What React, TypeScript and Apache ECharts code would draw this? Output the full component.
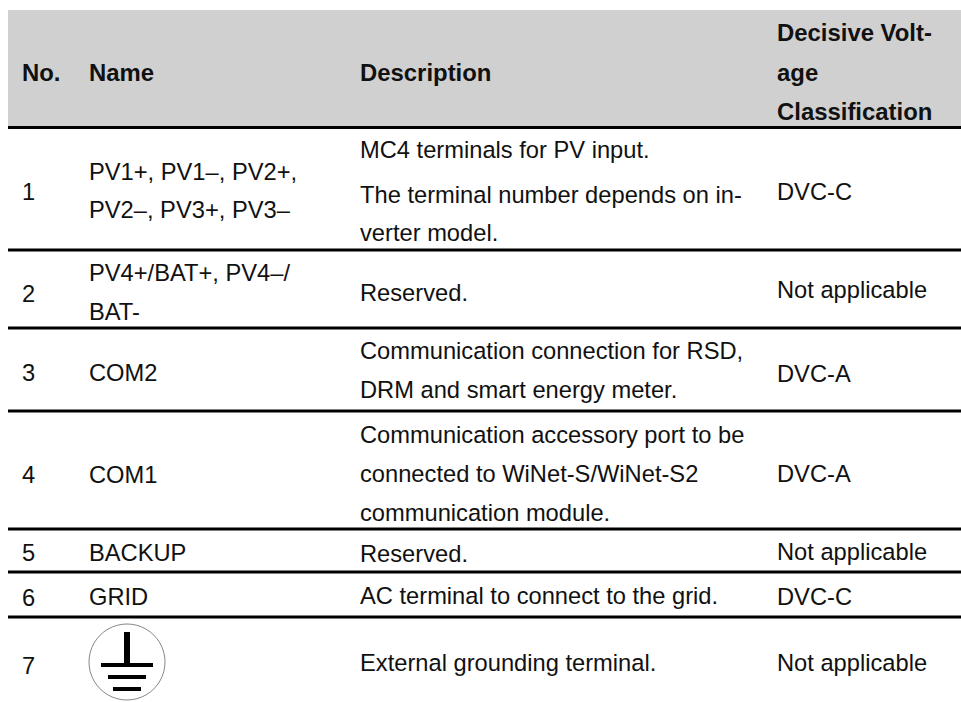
import React, { useEffect, useRef } from "react";
import * as echarts from "echarts";

const FONT = '"Liberation Sans", Arial, sans-serif';
const columnX = [22, 89, 360, 777];
const header = [
  { col: 0, y: 72, text: "No." },
  { col: 1, y: 72, text: "Name" },
  { col: 2, y: 72, text: "Description" },
  { col: 3, y: 32, text: "Decisive Volt-" },
  { col: 3, y: 72, text: "age" },
  { col: 3, y: 111, text: "Classification" },
];
const cells = [
  { col: 2, y: 150, text: "MC4 terminals for PV input." },
  { col: 2, y: 195, text: "The terminal number depends on in-" },
  { col: 2, y: 233, text: "verter model." },
  { col: 0, y: 192, text: "1" },
  { col: 1, y: 172, text: "PV1+, PV1–, PV2+," },
  { col: 1, y: 210, text: "PV2–, PV3+, PV3–" },
  { col: 3, y: 192, text: "DVC-C" },
  { col: 0, y: 294, text: "2" },
  { col: 1, y: 273, text: "PV4+/BAT+, PV4–/" },
  { col: 1, y: 312, text: "BAT-" },
  { col: 2, y: 293, text: "Reserved." },
  { col: 3, y: 290, text: "Not applicable" },
  { col: 0, y: 373, text: "3" },
  { col: 1, y: 373, text: "COM2" },
  { col: 2, y: 351, text: "Communication connection for RSD," },
  { col: 2, y: 390, text: "DRM and smart energy meter." },
  { col: 3, y: 374, text: "DVC-A" },
  { col: 0, y: 475, text: "4" },
  { col: 1, y: 475, text: "COM1" },
  { col: 2, y: 435, text: "Communication accessory port to be" },
  { col: 2, y: 474, text: "connected to WiNet-S/WiNet-S2" },
  { col: 2, y: 513, text: "communication module." },
  { col: 3, y: 474, text: "DVC-A" },
  { col: 0, y: 553, text: "5" },
  { col: 1, y: 553, text: "BACKUP" },
  { col: 2, y: 554, text: "Reserved." },
  { col: 3, y: 552, text: "Not applicable" },
  { col: 0, y: 598, text: "6" },
  { col: 1, y: 597, text: "GRID" },
  { col: 2, y: 596, text: "AC terminal to connect to the grid." },
  { col: 3, y: 597, text: "DVC-C" },
  { col: 0, y: 666, text: "7" },
  { col: 2, y: 663, text: "External grounding terminal." },
  { col: 3, y: 663, text: "Not applicable" },
];
const ruleY = [127.5, 250, 328, 411, 529, 572, 617];

export default function App() {
  const ref = useRef<HTMLDivElement>(null);
  useEffect(() => {
    document.body.style.margin = "0";
    const chart = echarts.init(ref.current!, null, { renderer: "svg" });
    const text = (c: any, bold: boolean) => ({
      type: "text",
      x: columnX[c.col],
      y: c.y,
      style: {
        text: c.text,
        fill: "#111",
        font: `${bold ? "bold 23.9px" : "23.7px"} ${FONT}`,
        textVerticalAlign: "middle",
        textBaseline: "middle",
      },
    });
    const elements: any[] = [
      { type: "rect", shape: { x: 8, y: 10, width: 953, height: 116 }, style: { fill: "#d0d0d0" } },
      ...ruleY.map((y) => ({ type: "rect", shape: { x: 8, y: y - 1.5, width: 953, height: 3 }, style: { fill: "#000" } })),
      ...header.map((c) => text(c, true)),
      ...cells.map((c) => text(c, false)),
      { type: "circle", shape: { cx: 127, cy: 662, r: 38 }, style: { fill: "#fff", stroke: "#888", lineWidth: 1 } },
      { type: "rect", shape: { x: 124, y: 632, width: 6, height: 33 }, style: { fill: "#000" } },
      { type: "rect", shape: { x: 101, y: 663, width: 52, height: 4 }, style: { fill: "#000" } },
      { type: "rect", shape: { x: 108, y: 675, width: 38, height: 4 }, style: { fill: "#000" } },
      { type: "rect", shape: { x: 113, y: 687, width: 28, height: 4 }, style: { fill: "#000" } },
    ];
    chart.setOption({ animation: false, graphic: { elements } });
    return () => chart.dispose();
  }, []);
  return <div ref={ref} style={{ width: 961, height: 702 }} />;
}
